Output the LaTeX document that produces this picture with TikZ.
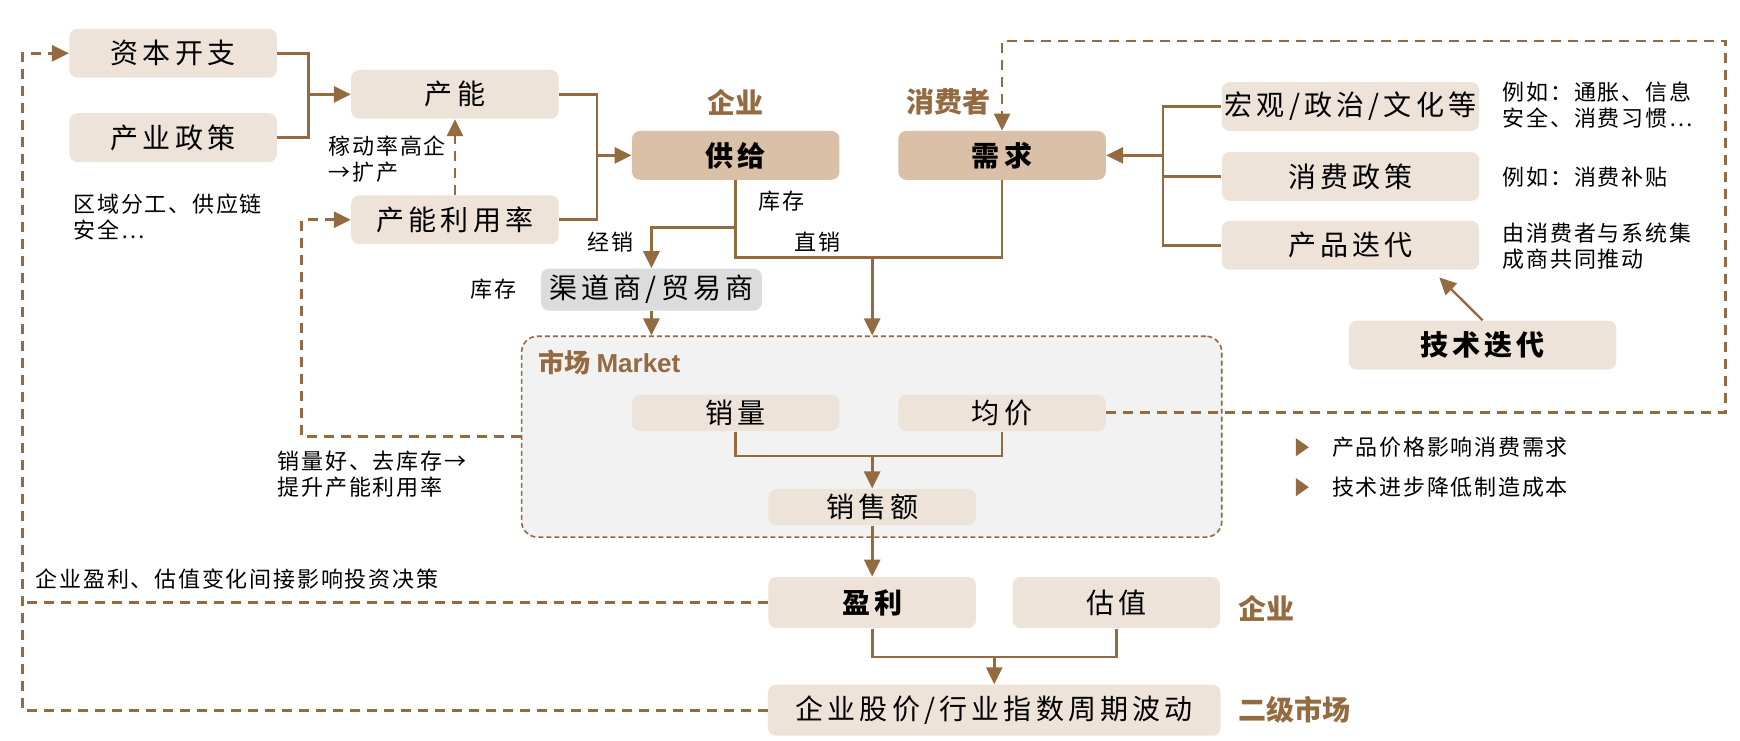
\documentclass[tikz,border=0pt]{standalone}
\usepackage{fontspec}
\setmainfont{Noto Sans CJK SC}
\newfontfamily\latinsans{Liberation Sans}
\usetikzlibrary{arrows.meta,shapes.geometric}
\definecolor{ln}{HTML}{946A40}
\definecolor{boxc}{HTML}{EDE3D8}
\definecolor{keyc}{HTML}{D9C0A7}
\definecolor{grayc}{HTML}{DCDCDC}
\definecolor{mkt}{HTML}{F2F2F2}
\newdimen\pxu \pxu=0.55485pt
\newcommand\bigtxt{\fontsize{14}{16}\selectfont\addfontfeatures{LetterSpace=15}}
\newcommand\smalltxt{\fontsize{11}{13}\selectfont\addfontfeatures{LetterSpace=8}}
\newcommand\tagtxt{\fontsize{14}{16}\selectfont\bfseries}
\tikzset{
  box/.style={fill=boxc, rounded corners=4pt, minimum width=187*\pxu,
    minimum height=44*\pxu, inner sep=0pt, font=\bigtxt},
  wbox/.style={box, minimum width=232*\pxu},
  keybox/.style={box, fill=keyc, font=\bigtxt\bfseries},
  mbox/.style={box, minimum height=33*\pxu},
  note/.style={font=\smalltxt, align=left, inner sep=0pt, anchor=west},
  tag/.style={font=\tagtxt, text=ln, inner sep=0pt},
  link/.style={draw=ln, line width=1.4pt},
  tip/.style={-{Triangle[length=8.5pt,width=8pt]}},
  fb/.style={link, dash pattern=on 5pt off 3.5pt},
  bullet/.style={isosceles triangle, fill=ln, inner sep=0pt,
    minimum width=6.5pt, minimum height=6.5pt, isosceles triangle apex angle=70},
}
\begin{document}
\begin{tikzpicture}[x=0.55485pt, y=-0.55485pt]
\useasboundingbox (0,0) rectangle (1568,667);

% market frame
\node[draw=ln, dash pattern=on 2.5pt off 1.5pt, line width=0.8pt, fill=mkt,
  rounded corners=8pt, minimum width=631*\pxu, minimum height=181*\pxu,
  inner sep=0pt] (market) at (785.5,393.5) {};
\node[tag, anchor=west, font=\fontsize{13}{15}\selectfont\bfseries] (mlabel) at (485,327)
  {市场 {\latinsans\bfseries Market}};

% supply side
\node[box] (capex) at (156,48) {资本开支};
\node[box] (policy) at (156,124) {产业政策};
\node[box] (cap) at (410,85) {产能};
\node[box] (util) at (410,198) {产能利用率};
\node[keybox] (supply) at (663,140) {供给};
\node[keybox] (demand) at (903,140) {需求};
\node[tag] (tagfirm) at (663,92) {企业};
\node[tag] (tagcons) at (855,92) {消费者};

% demand drivers
\node[wbox] (macro) at (1217,96) {宏观/政治/文化等};
\node[wbox] (cpol) at (1217,159) {消费政策};
\node[wbox] (prod) at (1217,221) {产品迭代};
\node[box, minimum width=241*\pxu, font=\bigtxt\bfseries] (tech) at (1336,311) {技术迭代};
\node[note] (ex1) at (1354,95) {例如：通胀、信息\\安全、消费习惯…};
\node[note] (ex2) at (1354,160) {例如：消费补贴};
\node[note] (ex3) at (1354,222) {由消费者与系统集\\成商共同推动};

% channel
\node[box, fill=grayc, minimum width=199*\pxu, minimum height=38*\pxu] (chan) at (587,261) {渠道商/贸易商};

% market contents
\node[mbox] (vol) at (663,372) {销量};
\node[mbox] (price) at (903,372) {均价};
\node[mbox] (rev) at (786,457) {销售额};

% results
\node[box, minimum height=46*\pxu, font=\bigtxt\bfseries] (profit) at (786,543) {盈利};
\node[box, minimum height=46*\pxu] (val) at (1006,543) {估值};
\node[box, minimum width=408*\pxu, minimum height=46*\pxu] (stock) at (896,640) {企业股价/行业指数周期波动};
\node[tag, anchor=west] (tagfirm2) at (1116,548) {企业};
\node[tag, anchor=west] (tagsec) at (1116,640) {二级市场};

% notes
\node[note] (n1) at (296,143) {稼动率高企\\→扩产};
\node[note] (n2) at (66,196) {区域分工、供应链\\安全…};
\node[note] (n3) at (683,181) {库存};
\node[note] (n4) at (529,218) {经销};
\node[note] (n5) at (716,218) {直销};
\node[note] (n6) at (424,261) {库存};
\node[note] (n7) at (250,427) {销量好、去库存→\\提升产能利用率};
\node[note] (n8) at (32,522) {企业盈利、估值变化间接影响投资决策};
\node[bullet] (b1) at (1172,403) {};
\node[bullet] (b2) at (1172,439) {};
\node[note] (t1) at (1200,403) {产品价格影响消费需求};
\node[note] (t2) at (1200,439) {技术进步降低制造成本};

% junctions
\coordinate (j1) at (278,85);
\coordinate (j2) at (538,140);
\coordinate (j3) at (1048,140);
\coordinate (j4) at (786,232);
\coordinate (j5) at (663,205);
\coordinate (j6) at (786,411);
\coordinate (j7) at (896,592);
\coordinate (techtip) at (1297,250);
\coordinate (c1) at (1555,37);
\coordinate (c2) at (272,300);
\coordinate (c3) at (20,300);

% solid flows
\draw[link] (capex.east) -| (j1) |- (policy.east);
\draw[link, tip] (j1) -- (cap.west);
\draw[link] (cap.east) -| (j2) |- (util.east);
\draw[link, tip] (j2) -- (supply.west);
\draw[link] (macro.west) -| (j3) |- (prod.west);
\draw[link] (cpol.west) -- (cpol.west -| j3);
\draw[link, tip] (j3) -- (demand.east);
\draw[link, tip, line width=1.2pt] (tech.north) -- (techtip);
\draw[link] (supply.south) |- (j4) -| (demand.south);
\draw[link, tip] (j4) -- (j4 |- market.north);
\draw[link, tip] (j5) -| (chan.north);
\draw[link, tip] (chan.south) -- (chan.south |- market.north);
\draw[link] (vol.south) |- (j6) -| (price.south);
\draw[link, tip] (j6) -- (rev.north);
\draw[link, tip] (rev.south) -- (profit.north);
\draw[link] (profit.south) |- (j7) -| (val.south);
\draw[link, tip] (j7) -- (stock.north);

% feedback loops
\draw[fb, tip] (util.north) -- (cap.south);
\draw[fb, tip] (price.east) -| (c1) -| (demand.north);
\draw[fb, tip] (market.west) -| (c2) |- (util.west);
\draw[fb] (profit.west) -- (profit.west -| c3);
\draw[fb, tip] (stock.west) -| (c3) |- (capex.west);
\end{tikzpicture}
\end{document}
